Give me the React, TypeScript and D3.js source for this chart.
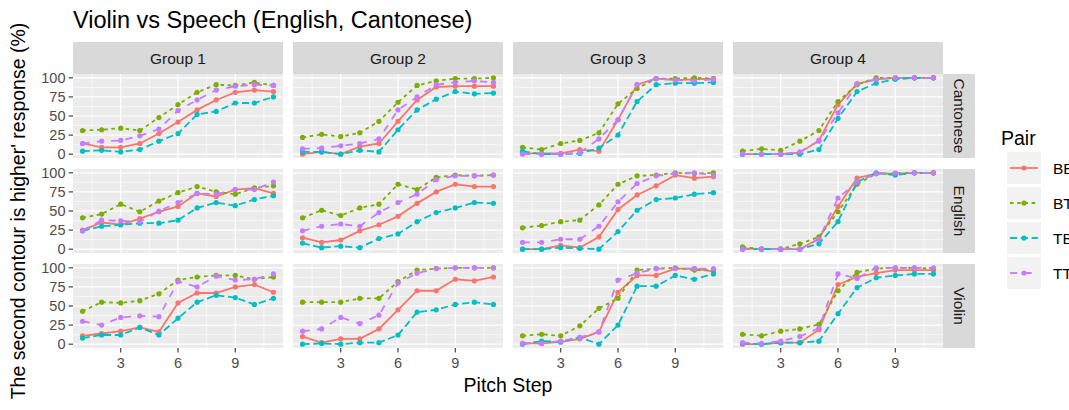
import React from "react";
import * as d3 from "d3";

const steps = [1, 2, 3, 4, 5, 6, 7, 8, 9, 10, 11];
const groups = ["Group 1", "Group 2", "Group 3", "Group 4"];
const languages = ["Cantonese", "English", "Violin"];
const pairs = ["BB", "BT", "TB", "TT"];
const yTicks = [0, 25, 50, 75, 100];
const yMinor = [12.5, 37.5, 62.5, 87.5];
const xTicks = [3, 6, 9];
const xMinor = [1.5, 4.5, 7.5, 10.5];

// one row per group (Group 1..4), one value per pitch step
const cantoneseBB = [
  [14, 9, 9, 14, 27, 42, 58, 71, 81, 84, 82],
  [0, 3, 0, 10, 14, 43, 71, 88, 89, 89, 89],
  [1, 1, 1, 6, 4, 45, 91, 99, 97, 98, 99],
  [0, 0, 0, 2, 18, 65, 92, 98, 100, 100, 100],
];
const cantoneseBT = [
  [31, 32, 34, 31, 48, 65, 81, 91, 90, 94, 90],
  [22, 26, 23, 28, 43, 68, 90, 96, 99, 99, 100],
  [9, 6, 14, 18, 28, 66, 86, 99, 99, 100, 99],
  [4, 7, 5, 17, 31, 69, 91, 100, 100, 100, 100],
];
const cantoneseTB = [
  [4, 5, 3, 6, 17, 27, 52, 56, 67, 67, 75],
  [3, 3, 0, 5, 3, 32, 58, 72, 82, 79, 80],
  [4, 0, 0, 1, 8, 25, 69, 91, 93, 93, 94],
  [0, 0, 0, 0, 6, 47, 82, 93, 98, 100, 100],
];
const cantoneseTT = [
  [14, 17, 18, 24, 33, 57, 71, 84, 89, 91, 90],
  [7, 8, 11, 14, 20, 58, 75, 91, 94, 96, 94],
  [0, 0, 0, 2, 20, 45, 91, 99, 97, 96, 98],
  [0, 0, 0, 3, 17, 54, 92, 98, 100, 100, 100],
];
const englishBB = [
  [25, 35, 32, 40, 49, 56, 73, 69, 78, 80, 73],
  [15, 9, 12, 24, 32, 43, 60, 75, 85, 82, 82],
  [0, 0, 5, 2, 16, 52, 71, 83, 97, 93, 95],
  [1, 0, 0, 0, 14, 56, 93, 99, 99, 100, 100],
];
const englishBT = [
  [41, 46, 59, 49, 63, 74, 82, 75, 72, 80, 83],
  [41, 51, 44, 54, 59, 85, 78, 94, 97, 96, 97],
  [28, 31, 36, 38, 58, 85, 96, 97, 100, 99, 100],
  [3, 0, 0, 7, 16, 49, 85, 99, 99, 100, 100],
];
const englishTB = [
  [24, 30, 32, 34, 34, 38, 54, 61, 57, 65, 70],
  [8, 2, 4, 2, 14, 20, 36, 48, 54, 61, 60],
  [0, 0, 2, 1, 0, 23, 51, 65, 67, 72, 74],
  [0, 0, 0, 0, 7, 36, 88, 100, 97, 100, 100],
];
const englishTT = [
  [24, 38, 37, 36, 50, 61, 73, 72, 78, 78, 88],
  [24, 30, 33, 30, 48, 61, 72, 91, 96, 96, 97],
  [9, 9, 13, 13, 30, 62, 86, 96, 99, 100, 97],
  [0, 0, 0, 0, 13, 67, 88, 99, 100, 100, 100],
];
const violinBB = [
  [11, 14, 17, 22, 16, 54, 67, 67, 75, 78, 68],
  [10, 2, 7, 7, 20, 45, 70, 70, 85, 83, 88],
  [1, 1, 3, 7, 16, 68, 90, 90, 99, 99, 95],
  [0, 0, 2, 2, 19, 78, 88, 93, 97, 97, 97],
];
const violinBT = [
  [43, 55, 54, 57, 66, 84, 88, 90, 90, 85, 88],
  [55, 55, 55, 60, 60, 82, 97, 99, 100, 100, 100],
  [11, 13, 11, 24, 47, 60, 97, 99, 100, 97, 97],
  [13, 11, 17, 20, 26, 70, 94, 99, 100, 100, 99],
];
const violinTB = [
  [8, 12, 12, 22, 12, 34, 55, 64, 61, 52, 60],
  [0, 1, 0, 2, 2, 12, 42, 45, 52, 55, 52],
  [0, 4, 3, 9, 0, 25, 76, 76, 90, 85, 92],
  [1, 0, 2, 2, 4, 40, 74, 87, 90, 92, 92],
];
const violinTT = [
  [30, 25, 35, 37, 36, 82, 75, 89, 84, 85, 92],
  [17, 20, 35, 27, 38, 80, 93, 99, 100, 100, 100],
  [1, 1, 4, 9, 16, 84, 93, 99, 99, 99, 99],
  [2, 1, 4, 10, 21, 92, 86, 100, 100, 100, 100],
];

const table: Record<string, Record<string, number[][]>> = {
  Cantonese: { BB: cantoneseBB, BT: cantoneseBT, TB: cantoneseTB, TT: cantoneseTT },
  English: { BB: englishBB, BT: englishBT, TB: englishTB, TT: englishTT },
  Violin: { BB: violinBB, BT: violinBT, TB: violinTB, TT: violinTT },
};

const colors = ["#F8766D", "#7CAE00", "#00BFC4", "#C77CFF"];
const dashes = ["", "3.6,3.6", "7.2,3.6", "7.2,7.2"];

const font = "'Liberation Sans', Arial, sans-serif";

const W = 1069;
const H = 410;
const colX = [73, 293, 513, 733];
const rowY = [74, 169, 264];
const panelW = 210;
const panelH = 84;
const stripH = 32;

const App = () => {
  const x = d3.scaleLinear().domain([0.5, 11.5]).range([0, panelW]);
  const y = d3.scaleLinear().domain([-5, 105]).range([panelH, 0]);
  const line = d3
    .line<number>()
    .x((d, i) => x(steps[i]))
    .y((d) => y(d));

  const lastRow = rowY[rowY.length - 1] + panelH;
  const rightEdge = colX[3] + panelW;

  return (
    <svg width={W} height={H} style={{ position: "absolute", left: 0, top: 0, background: "#fff" }} fontFamily={font}>
      <text x={73} y={28} fontSize={23.5} fill="#000">
        Violin vs Speech (English, Cantonese)
      </text>

      {groups.map((g, c) => (
        <g key={g}>
          <rect x={colX[c]} y={rowY[0] - stripH} width={panelW} height={stripH} fill="#D9D9D9" />
          <text x={colX[c] + panelW / 2} y={rowY[0] - stripH / 2 + 5.5} fontSize={15.5} textAnchor="middle" fill="#1A1A1A">
            {g}
          </text>
        </g>
      ))}

      {languages.map((lang, r) => (
        <g key={lang}>
          <rect x={rightEdge} y={rowY[r]} width={stripH} height={panelH} fill="#D9D9D9" />
          <text
            transform={`translate(${rightEdge + stripH / 2 - 5.5},${rowY[r] + panelH / 2}) rotate(90)`}
            fontSize={15.5}
            textAnchor="middle"
            fill="#1A1A1A"
          >
            {lang}
          </text>
          {groups.map((g, c) => (
            <g key={g} transform={`translate(${colX[c]},${rowY[r]})`}>
              <rect width={panelW} height={panelH} fill="#EBEBEB" />
              {yMinor.map((v) => (
                <line key={"ym" + v} x1={0} x2={panelW} y1={y(v)} y2={y(v)} stroke="#fff" strokeWidth={0.6} />
              ))}
              {xMinor.map((v) => (
                <line key={"xm" + v} x1={x(v)} x2={x(v)} y1={0} y2={panelH} stroke="#fff" strokeWidth={0.6} />
              ))}
              {yTicks.map((v) => (
                <line key={"y" + v} x1={0} x2={panelW} y1={y(v)} y2={y(v)} stroke="#fff" strokeWidth={1.2} />
              ))}
              {xTicks.map((v) => (
                <line key={"x" + v} x1={x(v)} x2={x(v)} y1={0} y2={panelH} stroke="#fff" strokeWidth={1.2} />
              ))}
              {pairs.map((p, k) => {
                const vals = table[lang][p][c];
                return (
                  <g key={p}>
                    <path d={line(vals) || ""} fill="none" stroke={colors[k]} strokeWidth={1.8} strokeDasharray={dashes[k]} />
                    {vals.map((v, i) => (
                      <circle key={i} cx={x(steps[i])} cy={y(v)} r={2.6} fill={colors[k]} />
                    ))}
                  </g>
                );
              })}
              {c === 0 &&
                yTicks.map((v) => (
                  <g key={"yt" + v}>
                    <line x1={-4.4} x2={0} y1={y(v)} y2={y(v)} stroke="#333" strokeWidth={1.1} />
                    <text x={-7.5} y={y(v) + 5} fontSize={14.5} textAnchor="end" fill="#4D4D4D">
                      {v}
                    </text>
                  </g>
                ))}
              {r === languages.length - 1 &&
                xTicks.map((v) => (
                  <g key={"xt" + v}>
                    <line x1={x(v)} x2={x(v)} y1={panelH} y2={panelH + 4.4} stroke="#333" strokeWidth={1.1} />
                    <text x={x(v)} y={panelH + 20} fontSize={14.5} textAnchor="middle" fill="#4D4D4D">
                      {v}
                    </text>
                  </g>
                ))}
            </g>
          ))}
        </g>
      ))}

      <text x={(colX[0] + rightEdge) / 2} y={lastRow + 44} fontSize={19.5} textAnchor="middle" fill="#000">
        Pitch Step
      </text>
      <text
        transform={`translate(25,${(rowY[0] + lastRow) / 2}) rotate(-90)`}
        fontSize={19.5}
        textAnchor="middle"
        fill="#000"
      >
        The second contour is higher' response (%)
      </text>

      <g transform="translate(1001,130)">
        <text x={0} y={15} fontSize={19.5} fill="#000">
          Pair
        </text>
        {pairs.map((p, k) => (
          <g key={p} transform={`translate(6,${22 + k * 35})`}>
            <rect width={34} height={32} fill="#F2F2F2" />
            <line x1={3} x2={31} y1={16} y2={16} stroke={colors[k]} strokeWidth={1.8} strokeDasharray={dashes[k]} />
            <circle cx={17} cy={16} r={2.6} fill={colors[k]} />
            <text x={46} y={21.5} fontSize={15.5} fill="#000">
              {p}
            </text>
          </g>
        ))}
      </g>
    </svg>
  );
};

export default App;
